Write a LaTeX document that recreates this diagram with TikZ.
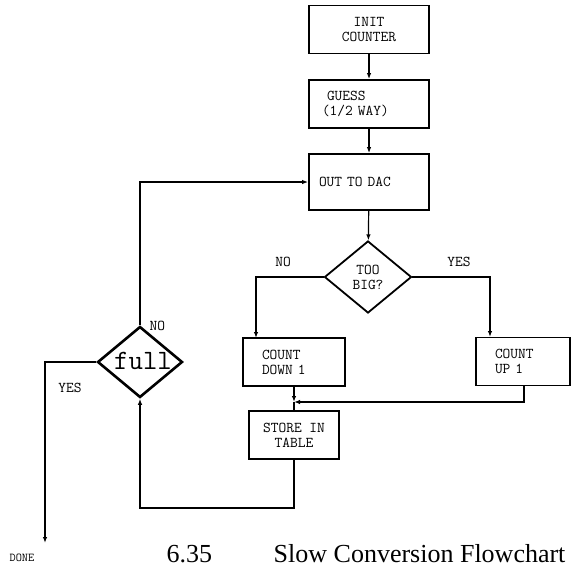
\documentclass[tikz,border=0pt]{standalone}
\usepackage{fontspec}
\setmainfont{Liberation Serif}
\usepackage{tikz}
\usetikzlibrary{calc,positioning,shapes.geometric,arrows.meta}
\tikzset{
  flowbox/.style={draw, line width=1.8pt, minimum width=120pt, minimum height=48pt, inner sep=3pt, font=\ttfamily\fontsize{15}{15}\selectfont},
  testdiam/.style={draw, diamond, line width=1.8pt, minimum width=87pt, minimum height=72pt, inner sep=0pt, font=\ttfamily\fontsize{15}{15}\selectfont},
  flowline/.style={line width=1.2pt, >={Latex[length=6pt,width=4.5pt]}},
  flowlabel/.style={font=\ttfamily\fontsize{15}{15}\selectfont}
}

\begin{document}
\begin{tikzpicture}[x=1pt, y=-1pt]
  \useasboundingbox (0,0) rectangle (571,568);

  % Main column
  \node[flowbox, align=center] (init) at (369,29.5) {INIT\\COUNTER};
  \node[flowbox, align=left, text width=94pt] (guess) at (369,104) {\ GUESS\\(1/2 WAY)};
  \node[flowbox, align=left, text width=100pt, minimum height=56pt] (dac) at (369,182) {OUT TO DAC};
  \node[testdiam, align=center] (big) at (368,277) {TOO\\BIG?};

  % Count branches
  \node[flowbox, align=left, minimum width=102pt, text width=64pt] (down) at (294,362) {COUNT\\DOWN 1};
  \node[flowbox, align=left, minimum width=94pt, text width=56pt] (up) at (523,361.5) {COUNT\\UP 1};
  \node[flowbox, align=center, minimum width=90pt] (store) at (294,435) {STORE IN\\TABLE};

  % Full test
  \node[draw, diamond, line width=2.6pt, minimum width=85pt, minimum height=71pt, inner sep=0pt] (full) at (140,362) {};
  \node[font=\ttfamily\fontsize{28}{28}\selectfont] (fulltxt) at (143,361) {full};

  % Connectors
  \draw[flowline, ->] (init) -- (guess);
  \draw[flowline, ->] (guess) -- (dac);
  \draw[flowline, ->] (dac) -- (big);
  \draw[flowline, ->] (big.west) -| (256,338) node[pos=0.3, above=6pt, flowlabel] (nobig) {NO};
  \draw[flowline, ->] (big.east) -| (490,337) node[pos=0.3, above=6pt, flowlabel] (yesbig) {YES};
  \coordinate (join) at (294,402);
  \draw[flowline, ->] (down) -- (join);
  \draw[flowline] (join) -- (store);
  \draw[flowline, ->] (524,386) |- (join);
  \draw[flowline, ->] (store.south) -- (294,508) -| (full.south);
  \draw[flowline, ->] (full.north) |- (dac.west);
  \node[flowlabel, anchor=south west] (nofull) at (146,334) {NO};

  % Exit
  \coordinate (done) at (45,543);
  \draw[flowline, ->] (full.west) -| (done);
  \node[flowlabel] (yesfull) at (70,388) {YES};
  \node[font=\ttfamily\fontsize{12}{12}\selectfont] (donetxt) at (22,558) {DONE};

  % Caption
  \node[anchor=base west, font=\fontsize{26}{26}\selectfont] (fignum) at (163,562) {6.35};
  \node[anchor=base east, font=\fontsize{26}{26}\selectfont] (caption) at (569,562) {Slow Conversion Flowchart};
\end{tikzpicture}
\end{document}
